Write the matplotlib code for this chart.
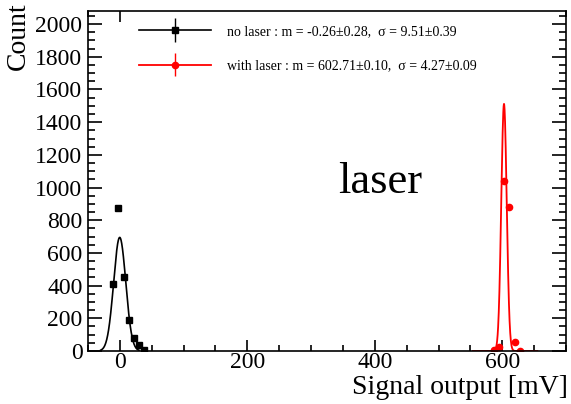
import numpy as np
import matplotlib
matplotlib.use("Agg")
import matplotlib.pyplot as plt
from matplotlib.ticker import MultipleLocator
from matplotlib.container import ErrorbarContainer
from matplotlib.legend_handler import HandlerErrorbar, HandlerTuple

plt.rcParams["font.family"] = ["Liberation Serif", "DejaVu Serif"]

# no laser: binned counts and gaussian fit
off_x = [-11, -3, 6, 14, 22, 30, 38]
off_counts = [408, 873, 453, 188, 80, 37, 8]
off_mean, off_sigma, off_peak = -0.26, 9.51, 695
off_range = (-30, 30)

# with laser
on_x = [587, 595, 603, 611, 620, 628]
on_counts = [6, 26, 1042, 883, 57, 2]
on_mean, on_sigma, on_peak = 602.71, 4.27, 1512
on_range = (554, 655)

off_label = "no laser : m = -0.26\u00b10.28,  \u03c3 = 9.51\u00b10.39"
on_label = "with laser : m = 602.71\u00b10.10,  \u03c3 = 4.27\u00b10.09"


def gauss(x, peak, mean, sigma):
    return peak * np.exp(-0.5 * ((x - mean) / sigma) ** 2)


fig = plt.figure(figsize=(5.71, 4.04), dpi=100)
ax = fig.add_axes([88 / 571, 1 - 351 / 404, 478 / 571, 340 / 404])

xs = np.linspace(*off_range, 300)
l_off, = ax.plot(xs, gauss(xs, off_peak, off_mean, off_sigma), color="black", lw=1.2)
# error bars are hidden under the markers in the original, only the legend shows them
e_off = ax.errorbar(off_x, off_counts, yerr=np.zeros(len(off_x)), fmt="s", color="black",
                    ms=5, elinewidth=1, capsize=0)

xs = np.linspace(*on_range, 400)
l_on, = ax.plot(xs, gauss(xs, on_peak, on_mean, on_sigma), color="red", lw=1.3)
e_on = ax.errorbar(on_x, on_counts, yerr=np.zeros(len(on_x)), fmt="o", color="red",
                   ms=4.5, elinewidth=1, capsize=0)

ax.text(408, 966, "laser", fontsize=32, ha="center", va="baseline")

ax.set_xlim(-50, 700)
ax.set_ylim(0, 2080)

ax.xaxis.set_major_locator(MultipleLocator(200))
ax.xaxis.set_minor_locator(MultipleLocator(50))
ax.yaxis.set_major_locator(MultipleLocator(200))
ax.yaxis.set_minor_locator(MultipleLocator(50))
ax.tick_params(which="both", direction="in", top=True, right=True, width=1.2)
ax.tick_params(axis="x", which="major", length=8, labelsize=17, pad=1)
ax.tick_params(axis="x", which="minor", length=4)
ax.tick_params(axis="y", which="major", length=10, labelsize=17, pad=4)
ax.tick_params(axis="y", which="minor", length=5)
for s in ax.spines.values():
    s.set_linewidth(1.2)

ax.set_xlabel("Signal output [mV]", fontsize=20, loc="right")
ax.xaxis.set_label_coords(1.004, -0.072)
ax.set_ylabel("Count", fontsize=20, loc="top")
ax.yaxis.set_label_coords(-0.12, 1.025)

leg = ax.legend([(l_off, e_off), (l_on, e_on)], [off_label, on_label],
                handler_map={tuple: HandlerTuple(ndivide=1),
                             ErrorbarContainer: HandlerErrorbar(yerr_size=0.85)},
                loc="upper left", bbox_to_anchor=(0.078, 1.0, 0.86, 0.0), mode="expand",
                fontsize=10, handlelength=5.2, handletextpad=1.1, labelspacing=1.55,
                borderpad=1.0, borderaxespad=0, frameon=True, framealpha=1,
                facecolor="white", edgecolor="white", fancybox=False)
leg.set_zorder(2.6)
ax.spines["top"].set_zorder(10)

fig.savefig("out.png", dpi=100)
